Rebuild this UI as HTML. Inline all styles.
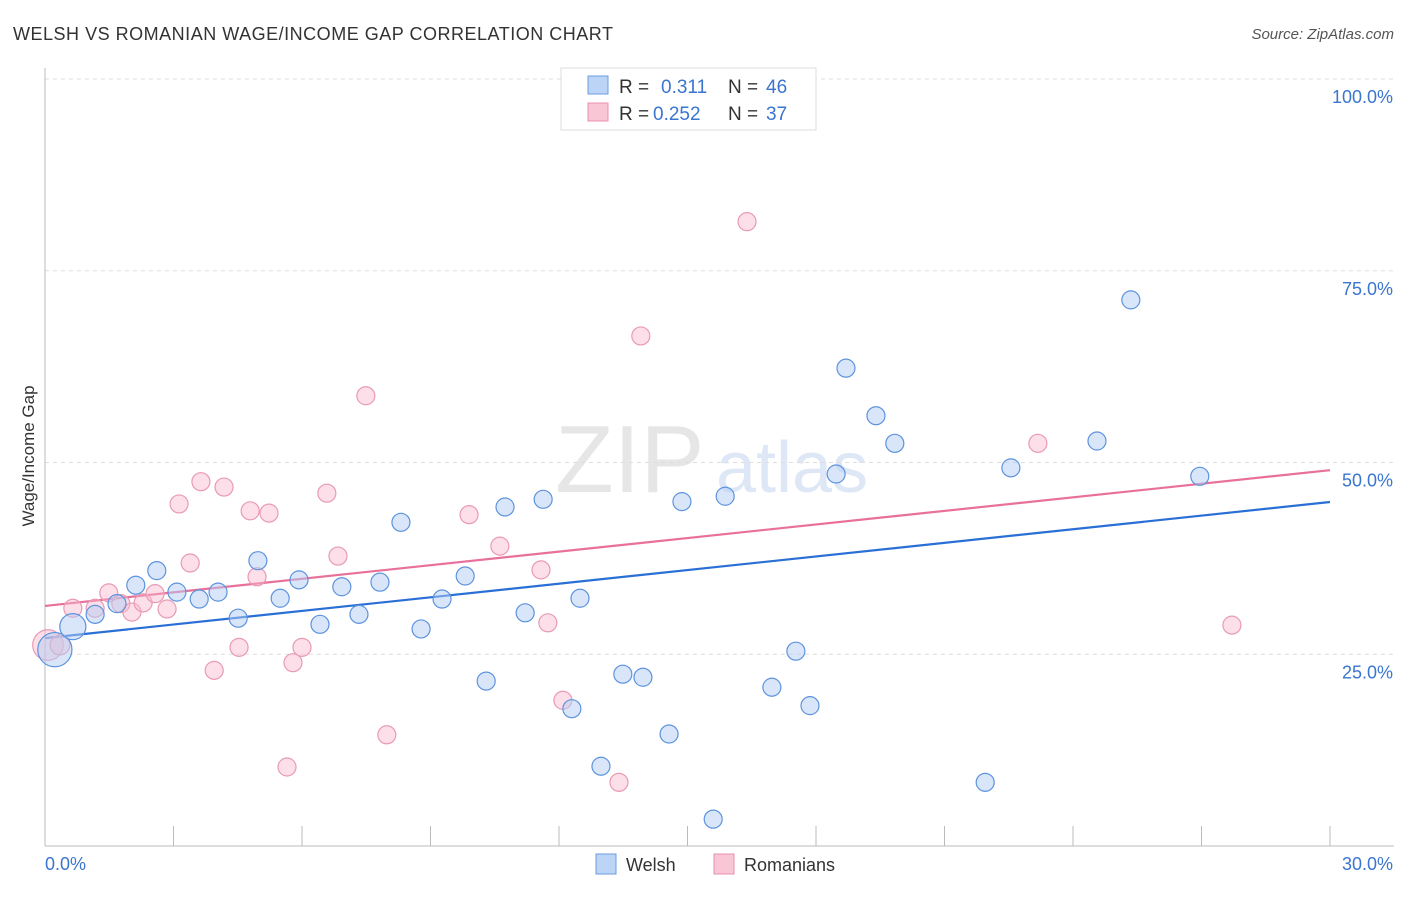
<!DOCTYPE html>
<html><head><meta charset="utf-8"><style>
body{margin:0;background:#fff;font-family:"Liberation Sans",sans-serif;}
svg text{font-family:"Liberation Sans",sans-serif;}
</style></head><body>
<svg id="chart" width="1406" height="892" viewBox="0 0 1406 892">
<text x="13" y="40" font-size="18" fill="#333" textLength="600">WELSH VS ROMANIAN WAGE/INCOME GAP CORRELATION CHART</text>
<text x="1394" y="39" font-size="15" fill="#555" font-style="italic" text-anchor="end">Source: ZipAtlas.com</text>
<g>
<text x="555" y="492" font-size="96" fill="#e6e6e6" font-family="Liberation Serif">ZIP</text>
<text x="716" y="492" font-size="72" fill="#dde7f5">atlas</text>
</g>
<g id="grid"></g>
<g id="axes"></g>
<g id="lines"></g>
<g id="pts"></g>
<text transform="translate(34,456) rotate(-90)" font-size="17" fill="#333" text-anchor="middle">Wage/Income Gap</text>
<g>
<rect x="561" y="68" width="255" height="62" fill="#fff" stroke="#ddd"/>
<rect x="588" y="76" width="20" height="18" fill="#bcd4f5" stroke="#6a9be0"/>
<rect x="588" y="103" width="20" height="18" fill="#f9c6d6" stroke="#e890ad"/>
<text x="619" y="93" font-size="19" fill="#333">R = <tspan x="661" fill="#3a75cf">0.311</tspan><tspan x="728">N = </tspan><tspan x="766" fill="#3a75cf">46</tspan></text>
<text x="619" y="120" font-size="19" fill="#333">R = <tspan x="653" fill="#3a75cf">0.252</tspan><tspan x="728">N = </tspan><tspan x="766" fill="#3a75cf">37</tspan></text>
</g>
<g>
<rect x="596" y="854" width="20" height="20" fill="#bcd4f5" stroke="#6a9be0"/>
<text x="626" y="871" font-size="18" fill="#333">Welsh</text>
<rect x="714" y="854" width="20" height="20" fill="#f9c6d6" stroke="#e890ad"/>
<text x="744" y="871" font-size="18" fill="#333">Romanians</text>
</g>
</svg>
<script>
const yTicks=[25,50,75,100];
const yTickLabels=["25.0%","50.0%","75.0%","100.0%"];
const xTicks=[0,3,6,9,12,15,18,21,24,27,30];
const welshX=[0.23,0.65,1.17,1.68,2.12,2.61,3.08,3.60,4.04,4.51,4.97,5.49,5.93,6.42,6.93,7.33,7.82,8.31,8.78,9.27,9.81,10.30,10.74,11.21,11.63,12.30,12.49,12.98,13.49,13.96,14.57,14.87,15.60,15.88,16.97,17.53,17.86,18.47,18.70,19.40,19.84,21.95,22.55,24.56,25.35,26.96];
const welshY=[25.6,28.6,30.2,31.6,34.0,35.9,33.1,32.2,33.1,29.7,37.2,32.3,34.7,28.9,33.8,30.2,34.4,42.2,28.3,32.2,35.2,21.5,44.2,30.4,45.2,17.9,32.3,10.4,22.4,22.0,14.6,44.9,3.5,45.6,20.7,25.4,18.3,48.5,62.3,56.1,52.5,8.3,49.3,52.8,71.2,48.2];
const welshW=[1.9,1.45,1,1,1,1,1,1,1,1,1,1,1,1,1,1,1,1,1,1,1,1,1,1,1,1,1,1,1,1,1,1,1,1,1,1,1,1,1,1,1,1,1,1,1,1];
const romX=[0.07,0.35,0.65,1.17,1.49,1.77,2.03,2.29,2.57,2.85,3.13,3.39,3.64,3.95,4.18,4.53,4.79,4.95,5.23,5.65,5.79,6.00,6.58,6.84,7.49,7.98,9.90,10.62,11.58,11.74,12.09,13.40,13.91,16.39,23.18,27.71];
const romY=[26.2,26.2,31.0,31.0,33.0,31.6,30.5,31.7,32.9,30.9,44.6,36.9,47.5,22.9,46.8,25.9,43.7,35.1,43.4,10.3,23.9,25.9,46.0,37.8,58.7,14.5,43.2,39.1,36.0,29.1,19.0,8.3,66.5,81.4,52.5,28.8];
const romW=[1.7,1.1,1,1,1,1,1,1,1,1,1,1,1,1,1,1,1,1,1,1,1,1,1,1,1,1,1,1,1,1,1,1,1,1,1,1];
const welshTrend=[27.1,44.85];
const romTrend=[31.3,49.0];
const NS="http://www.w3.org/2000/svg";
const X0=45,X1=1330,Y0=846,YPER=7.67;
const sx=v=>X0+(v/30)*(X1-X0);
const sy=v=>Y0-v*YPER;
function mk(tag,attrs,parent){const e=document.createElementNS(NS,tag);for(const k in attrs)e.setAttribute(k,attrs[k]);parent.appendChild(e);return e;}
const grid=document.getElementById('grid'),axes=document.getElementById('axes');
yTicks.forEach((t,i)=>{
 const l=mk('line',{x1:X0,x2:1394,y1:sy(t),y2:sy(t),stroke:'#ddd','stroke-dasharray':'4,4'},grid);
 
 
 const tx=mk('text',{x:1393,y:sy(t)+24,'font-size':18,fill:'#3a75cf','text-anchor':'end'},axes);
 tx.textContent=yTickLabels[i];
 
 
});
const ya=mk('line',{x1:X0,x2:X0,y1:68,y2:Y0,stroke:'#bbb'},axes);


const xa=mk('line',{x1:X0,x2:1394,y1:Y0,y2:Y0,stroke:'#bbb'},axes);


xTicks.forEach(t=>{
 const l=mk('line',{x1:sx(t),x2:sx(t),y1:826,y2:Y0,stroke:'#bbb'},axes);
 
 
});
const xl0=mk('text',{x:45,y:870,'font-size':18,fill:'#3a75cf'},axes);xl0.textContent='0.0%';


const xl1=mk('text',{x:1393,y:870,'font-size':18,fill:'#3a75cf','text-anchor':'end'},axes);xl1.textContent='30.0%';


const pts=document.getElementById('pts');
function series(xs,ys,ws,fill,stroke,name){
 xs.forEach((x,i)=>{
  const c=mk('circle',{cx:sx(x),cy:sy(ys[i]),r:9*ws[i],fill:fill,stroke:stroke,'stroke-width':1.2},pts);
  
  
 });
}
series(romX,romY,romW,'rgba(248,184,204,0.45)','#e99ab5','romanians');
series(welshX,welshY,welshW,'rgba(180,206,243,0.5)','#5d93dd','welsh');
const lines=document.getElementById('lines');
const wl=mk('line',{x1:sx(0),y1:sy(welshTrend[0]),x2:sx(30),y2:sy(welshTrend[1]),stroke:'#2a6fd6','stroke-width':2.2},lines);


const rl=mk('line',{x1:sx(0),y1:sy(romTrend[0]),x2:sx(30),y2:sy(romTrend[1]),stroke:'#e8709a','stroke-width':2.2},lines);


</script>
</body></html>
